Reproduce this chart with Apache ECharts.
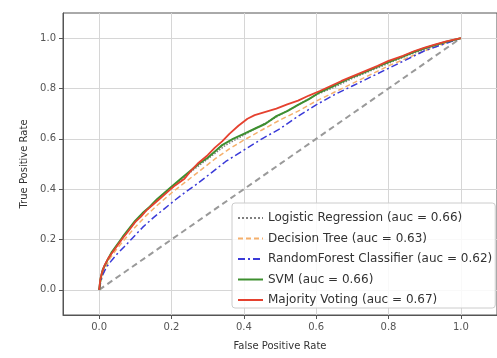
<!DOCTYPE html>
<html>
<head>
<meta charset="utf-8">
<script src="https://cdn.jsdelivr.net/npm/echarts@6/dist/echarts.min.js"></script>
<style>
  html, body { margin: 0; padding: 0; background: #fff; }
  #chart { width: 497px; height: 358px; }
</style>
</head>
<body>
<div id="chart"></div>
<script>
// tick values shared by both axes
const ticks = [0, 0.2, 0.4, 0.6, 0.8, 1.0]

// [fpr, tpr] points
const logistic = [
  [0, 0], [0.004, 0.045], [0.01, 0.08], [0.02, 0.11], [0.035, 0.148], [0.05, 0.178],
  [0.07, 0.215], [0.1, 0.27], [0.13, 0.315], [0.16, 0.355], [0.2, 0.405], [0.25, 0.465],
  [0.3, 0.52], [0.35, 0.575], [0.4, 0.615], [0.45, 0.655], [0.5, 0.695], [0.55, 0.735],
  [0.6, 0.775], [0.65, 0.805], [0.7, 0.84], [0.75, 0.87], [0.8, 0.9], [0.85, 0.93],
  [0.9, 0.955], [0.95, 0.98], [1, 1],
]
const decisionTree = [
  [0, 0], [0.005, 0.04], [0.015, 0.08], [0.03, 0.125], [0.05, 0.165], [0.07, 0.2],
  [0.1, 0.25], [0.13, 0.295], [0.16, 0.335], [0.2, 0.385], [0.24, 0.43], [0.28, 0.475],
  [0.32, 0.52], [0.36, 0.56], [0.4, 0.595], [0.45, 0.635], [0.5, 0.675], [0.55, 0.71],
  [0.6, 0.75], [0.65, 0.785], [0.7, 0.82], [0.75, 0.855], [0.8, 0.89], [0.85, 0.92],
  [0.9, 0.95], [0.95, 0.976], [1, 1],
]
const randomForest = [
  [0, 0], [0.005, 0.035], [0.01, 0.06], [0.02, 0.09], [0.035, 0.118], [0.05, 0.143],
  [0.07, 0.172], [0.095, 0.21], [0.12, 0.248], [0.15, 0.287], [0.18, 0.322], [0.21, 0.357],
  [0.24, 0.39], [0.27, 0.42], [0.31, 0.465], [0.35, 0.51], [0.4, 0.555], [0.45, 0.6],
  [0.5, 0.64], [0.55, 0.69], [0.6, 0.735], [0.65, 0.775], [0.7, 0.81], [0.75, 0.845],
  [0.8, 0.88], [0.85, 0.915], [0.9, 0.95], [0.95, 0.975], [1, 1],
]
const svm = [
  [0, 0], [0.004, 0.045], [0.01, 0.08], [0.02, 0.11], [0.035, 0.15], [0.05, 0.18],
  [0.065, 0.21], [0.08, 0.238], [0.1, 0.275], [0.12, 0.305], [0.14, 0.33], [0.16, 0.36],
  [0.18, 0.385], [0.2, 0.41], [0.225, 0.44], [0.25, 0.47], [0.275, 0.5], [0.3, 0.525],
  [0.32, 0.55], [0.34, 0.575], [0.37, 0.6], [0.4, 0.62], [0.43, 0.64], [0.46, 0.66],
  [0.49, 0.69], [0.52, 0.71], [0.55, 0.735], [0.58, 0.758], [0.61, 0.785], [0.64, 0.805],
  [0.67, 0.825], [0.7, 0.845], [0.74, 0.868], [0.77, 0.887], [0.8, 0.905], [0.84, 0.927],
  [0.87, 0.945], [0.9, 0.96], [0.93, 0.973], [0.96, 0.986], [1, 1],
]
const majority = [
  [0, 0], [0.003, 0.04], [0.008, 0.07], [0.014, 0.095], [0.025, 0.125], [0.035, 0.145],
  [0.05, 0.175], [0.065, 0.205], [0.08, 0.232], [0.1, 0.27], [0.115, 0.29], [0.13, 0.315],
  [0.15, 0.34], [0.17, 0.365], [0.19, 0.39], [0.21, 0.415], [0.235, 0.44], [0.255, 0.475],
  [0.275, 0.505], [0.3, 0.535], [0.32, 0.565], [0.34, 0.59], [0.36, 0.62], [0.385, 0.652],
  [0.41, 0.68], [0.43, 0.694], [0.46, 0.707], [0.49, 0.72], [0.52, 0.737], [0.55, 0.752],
  [0.58, 0.772], [0.61, 0.79], [0.64, 0.81], [0.67, 0.83], [0.7, 0.848], [0.74, 0.872],
  [0.77, 0.89], [0.8, 0.91], [0.84, 0.93], [0.87, 0.948], [0.9, 0.962], [0.93, 0.975],
  [0.96, 0.987], [1, 1],
]
const diagonal = [[0, 0], [1, 1]]

const font = 'DejaVu Sans'

const axisCommon = {
  type: 'value',
  min: -0.1,
  max: 1.1,
  nameLocation: 'middle',
  nameTextStyle: { fontFamily: font, fontSize: 10, color: '#333' },
  axisLine: { show: true, onZero: false, lineStyle: { color: '#555', width: 1 } },
  axisTick: { show: true, customValues: ticks, length: 4, lineStyle: { color: '#555' } },
  axisLabel: {
    customValues: ticks,
    fontFamily: font,
    fontSize: 10,
    color: '#555',
    margin: 7,
    formatter: (v) => v.toFixed(1),
  },
  splitLine: { show: true, lineStyle: { color: '#d6d6d6', width: 1 } },
}

const line = (name, data, color, type, width, z) => ({
  name,
  type: 'line',
  data,
  showSymbol: false,
  symbol: 'none',
  z,
  lineStyle: { color, type, width },
  itemStyle: { color },
})

const chart = echarts.init(document.getElementById('chart'))
chart.setOption({
  animation: false,
  grid: {
    left: 63,
    right: -5,
    top: 13,
    bottom: 43,
    show: true,
    borderColor: '#555',
    borderWidth: 1,
  },
  xAxis: Object.assign({}, axisCommon, { name: 'False Positive Rate', nameGap: 26 }),
  yAxis: Object.assign({}, axisCommon, { name: 'True Positive Rate', nameGap: 34 }),
  legend: {
    orient: 'vertical',
    left: 232,
    top: 203,
    itemWidth: 25,
    itemHeight: 14,
    itemGap: 6.5,
    padding: [8, 3, 1, 5],
    backgroundColor: 'rgba(255,255,255,0.85)',
    borderColor: '#ccc',
    borderWidth: 1,
    borderRadius: 3,
    itemStyle: { opacity: 0 },
    textStyle: { fontFamily: font, fontSize: 12, color: '#333', lineHeight: 14 },
    data: [
      'Logistic Regression (auc = 0.66)',
      'Decision Tree (auc = 0.63)',
      'RandomForest Classifier (auc = 0.62)',
      'SVM (auc = 0.66)',
      'Majority Voting (auc = 0.67)',
    ],
  },
  series: [
    line('diag', diagonal, '#9a9a9a', [6, 4], 2, 1),
    line('Logistic Regression (auc = 0.66)', logistic, '#808080', 'dotted', 1.5, 2),
    line('Decision Tree (auc = 0.63)', decisionTree, '#f5b06c', [5, 3], 1.5, 3),
    line('RandomForest Classifier (auc = 0.62)', randomForest, '#3a3ad8', [7, 3, 2, 3], 1.5, 4),
    line('SVM (auc = 0.66)', svm, '#3d8f2f', 'solid', 2, 5),
    line('Majority Voting (auc = 0.67)', majority, '#e5412f', 'solid', 1.8, 6),
  ],
})
</script>
</body>
</html>
